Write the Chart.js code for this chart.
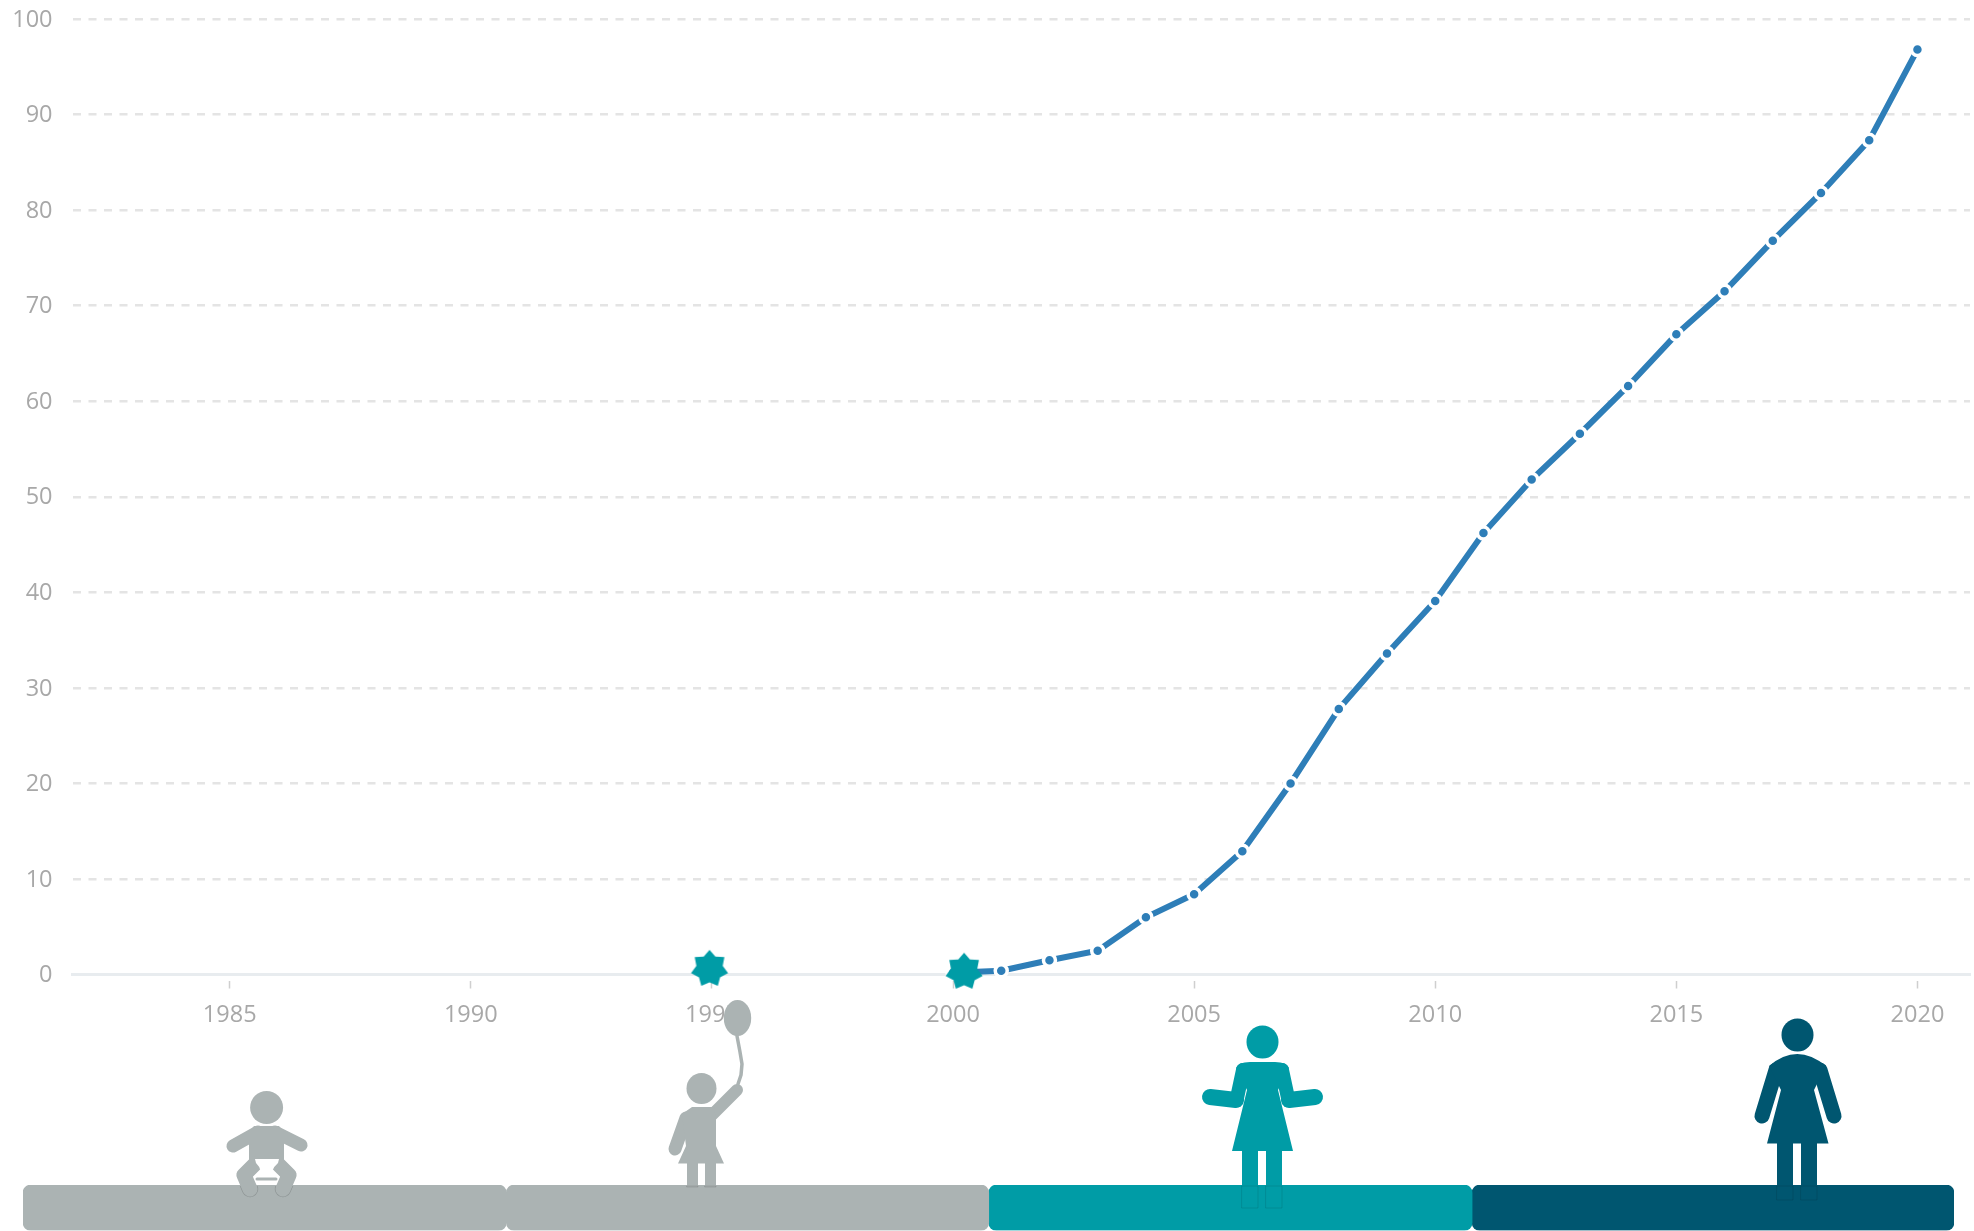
<!DOCTYPE html>
<html>
<head>
<meta charset="utf-8">
<title>Chart</title>
<script src="https://cdn.jsdelivr.net/npm/chart.js@4"></script>
<style>
  html, body { margin: 0; padding: 0; background: #fff; overflow: hidden; }
  canvas { position: absolute; left: 0; top: 0; }
</style>
</head>
<body>
<canvas id="lineChart" width="1974" height="1231"></canvas>
<canvas id="phaseChart" width="1974" height="1231"></canvas>
<script>
// values
const years = [2000, 2001, 2002, 2003, 2004, 2005, 2006, 2007, 2008, 2009, 2010,
               2011, 2012, 2013, 2014, 2015, 2016, 2017, 2018, 2019, 2020];
const values = [0.2, 0.4, 1.5, 2.5, 6, 8.4, 12.9, 20, 27.8, 33.6, 39.1,
                46.2, 51.8, 56.6, 61.6, 67, 71.5, 76.8, 81.8, 87.3, 96.8];
const starYears = [1994.95, 2000.23];
const starValues = [0.6, 0.3];
const xTicks = [1985, 1990, 1995, 2000, 2005, 2010, 2015, 2020];
const phaseStarts = [1980.7, 1990.73, 2000.74, 2010.77];
const phaseEnds = [1990.73, 2000.74, 2010.77, 2020.77];
const phaseColors = ['#abb3b3', '#abb3b3', '#009ca6', '#005670'];

const GREY = '#abb3b3', TEAL = '#009ca6', NAVY = '#005670';
const tickFont = { family: '"Open Sans"', size: 23.5 };
const tickColor = '#a8a8a8';

// 7 pointed star used as point style
function makeStar() {
  const c = document.createElement('canvas');
  c.width = 40; c.height = 40;
  const g = c.getContext('2d');
  g.fillStyle = TEAL;
  g.beginPath();
  for (let i = 0; i < 14; i++) {
    const r = i % 2 ? 13.5 : 19;
    const a = -Math.PI / 2 + i * Math.PI / 7;
    g.lineTo(20 + r * Math.cos(a), 20 + r * Math.sin(a));
  }
  g.closePath();
  g.fill();
  return c;
}

new Chart(document.getElementById('lineChart'), {
  type: 'scatter',
  data: {
    datasets: [
      {
        data: starYears.map((x, i) => ({ x: x, y: starValues[i] })),
        pointStyle: makeStar(),
        clip: false
      },
      {
        data: years.map((x, i) => ({ x: x, y: values[i] })),
        showLine: true,
        borderColor: '#2e7eb8',
        borderWidth: 6,
        pointRadius: 6,
        pointBackgroundColor: '#2e7eb8',
        pointBorderColor: '#fff',
        pointBorderWidth: 3.5,
        clip: false
      }
    ]
  },
  options: {
    responsive: false,
    animation: false,
    layout: { autoPadding: false, padding: { top: 0, right: 4, left: 0, bottom: 0 } },
    plugins: { legend: { display: false }, tooltip: { enabled: false } },
    scales: {
      x: {
        type: 'linear',
        min: 1981.74,
        max: 2021.09,
        afterBuildTicks: function(scale) {
          scale.ticks = xTicks.map(v => ({ value: v }));
        },
        afterFit: function(scale) {
          scale.height = 256.4;
          scale.paddingLeft = 0;
          scale.paddingRight = 0;
        },
        border: { color: '#e8ecef', width: 3 },
        grid: {
          drawOnChartArea: false,
          tickLength: 14,
          tickColor: '#cfcfcf',
          tickWidth: 1.5,
          tickBorderDash: [0, 5, 9, 100]
        },
        ticks: {
          font: tickFont,
          color: tickColor,
          padding: 13,
          maxRotation: 0,
          autoSkip: false,
          callback: v => String(v)
        }
      },
      y: {
        min: 0,
        max: 100,
        afterFit: function(scale) {
          scale.width = 72.5;
          scale.paddingTop = 19;
        },
        border: { display: false, dash: [8, 7.5] },
        grid: { color: '#e4e4e4', lineWidth: 2.5, drawTicks: false },
        ticks: { stepSize: 10, font: tickFont, color: tickColor, padding: 20, labelOffset: 1 }
      }
    }
  }
});

function ellipse(g, x, y, rx, ry, color) {
  g.fillStyle = color;
  g.beginPath();
  g.ellipse(x, y, rx, ry, 0, 0, Math.PI * 2);
  g.fill();
}
function poly(g, pts, color) {
  g.fillStyle = color;
  g.beginPath();
  pts.forEach(p => g.lineTo(p[0], p[1]));
  g.closePath();
  g.fill();
}
function limb(g, pts, width, color) {
  g.strokeStyle = color;
  g.lineWidth = width;
  g.lineCap = 'round';
  g.lineJoin = 'round';
  g.beginPath();
  pts.forEach(p => g.lineTo(p[0], p[1]));
  g.stroke();
}
// parts that run into the bar keep a faint outline there
function outlinedLimb(g, pts, width, color) {
  g.save();
  g.beginPath();
  g.rect(0, 1186, 1974, 45);
  g.clip();
  limb(g, pts, width + 1.4, 'rgba(0,0,0,0.16)');
  g.restore();
  limb(g, pts, width, color);
}
function leg(g, x, w, top, bottom, color) {
  g.fillStyle = color;
  g.fillRect(x, top, w, bottom - top);
  g.strokeStyle = 'rgba(0,0,0,0.13)';
  g.lineWidth = 0.8;
  g.strokeRect(x, 1186, w, bottom - 1186);
}

function drawBaby(g) {
  const c = GREY;
  ellipse(g, 266.6, 1107.5, 16.5, 16.5, c);
  limb(g, [[258, 1132], [233, 1146]], 13, c);
  limb(g, [[275, 1132], [301, 1145]], 13, c);
  poly(g, [[254, 1126], [279, 1126], [284, 1132], [284, 1168], [249, 1168], [249, 1132]], c);
  outlinedLimb(g, [[255, 1164], [244, 1175], [250, 1189]], 15, c);
  outlinedLimb(g, [[278, 1164], [289, 1175], [283, 1189]], 15, c);
  g.fillStyle = '#fff';
  g.beginPath();
  g.moveTo(255, 1159); g.lineTo(279, 1159); g.lineTo(278, 1163);
  g.quadraticCurveTo(270, 1170, 273, 1177);
  g.lineTo(259, 1177);
  g.quadraticCurveTo(263, 1170, 256, 1163);
  g.closePath();
  g.fill();
  limb(g, [[257, 1179], [276, 1179]], 3, c);
}

function drawGirl(g) {
  const c = GREY;
  ellipse(g, 701.5, 1088.5, 15, 15.5, c);
  limb(g, [[686, 1118], [675, 1149]], 13, c);
  limb(g, [[712, 1115], [737, 1090]], 12, c);
  poly(g, [[692, 1107], [714, 1107], [716, 1120], [716, 1146], [724, 1163.5], [678, 1163.5], [686, 1146], [682, 1114]], c);
  leg(g, 687, 11, 1163, 1187, c);
  leg(g, 705, 11, 1163, 1187, c);
  // balloon
  limb(g, [[737, 1036], [740, 1052], [742, 1064], [741, 1075], [738, 1084]], 3.5, c);
  ellipse(g, 737.5, 1018, 13.7, 18, c);
}

function drawWomanTeal(g) {
  const c = TEAL;
  ellipse(g, 1262.5, 1042, 16, 16.5, c);
  limb(g, [[1243, 1070], [1237, 1098]], 14, c);
  limb(g, [[1282, 1070], [1288, 1098]], 14, c);
  limb(g, [[1236, 1100], [1210, 1097]], 16, c);
  limb(g, [[1289, 1100], [1315, 1097]], 16, c);
  g.fillStyle = c;
  g.beginPath();
  g.moveTo(1236, 1068);
  g.quadraticCurveTo(1238, 1062, 1250, 1062);
  g.lineTo(1275, 1062);
  g.quadraticCurveTo(1287, 1062, 1289, 1068);
  g.lineTo(1278, 1090); g.lineTo(1293, 1151); g.lineTo(1232, 1151); g.lineTo(1247, 1090);
  g.closePath();
  g.fill();
  leg(g, 1242, 16, 1150, 1208, c);
  leg(g, 1266, 16, 1150, 1208, c);
}

function drawWomanNavy(g) {
  const c = NAVY;
  ellipse(g, 1797.5, 1035, 16, 16.5, c);
  limb(g, [[1776, 1070], [1762, 1116]], 15, c);
  limb(g, [[1820, 1070], [1834, 1116]], 15, c);
  g.fillStyle = c;
  g.beginPath();
  g.moveTo(1769, 1066);
  g.quadraticCurveTo(1797, 1042, 1826, 1066);
  g.lineTo(1814, 1090); g.lineTo(1828.5, 1143.5); g.lineTo(1767, 1143.5); g.lineTo(1781, 1090);
  g.closePath();
  g.fill();
  leg(g, 1777, 16, 1143, 1200, c);
  leg(g, 1801, 16, 1143, 1200, c);
}

const figures = {
  id: 'figures',
  afterDatasetsDraw: function(chart) {
    const g = chart.ctx;
    g.save();
    drawBaby(g);
    drawGirl(g);
    drawWomanTeal(g);
    drawWomanNavy(g);
    g.restore();
  }
};

new Chart(document.getElementById('phaseChart'), {
  type: 'bar',
  data: {
    labels: ['phase'],
    datasets: phaseStarts.map((s, i) => ({
      data: [[s, phaseEnds[i]]],
      backgroundColor: phaseColors[i],
      borderWidth: 0,
      borderSkipped: false,
      borderRadius: 8,
      grouped: false,
      barPercentage: 1,
      categoryPercentage: 1
    }))
  },
  options: {
    indexAxis: 'y',
    responsive: false,
    animation: false,
    layout: { padding: { left: 23, right: 20, top: 1185, bottom: 0.6 } },
    plugins: { legend: { display: false }, tooltip: { enabled: false } },
    scales: {
      x: { type: 'linear', min: phaseStarts[0], max: phaseEnds[3], display: false },
      y: { display: false }
    }
  },
  plugins: [figures]
});
</script>
</body>
</html>
